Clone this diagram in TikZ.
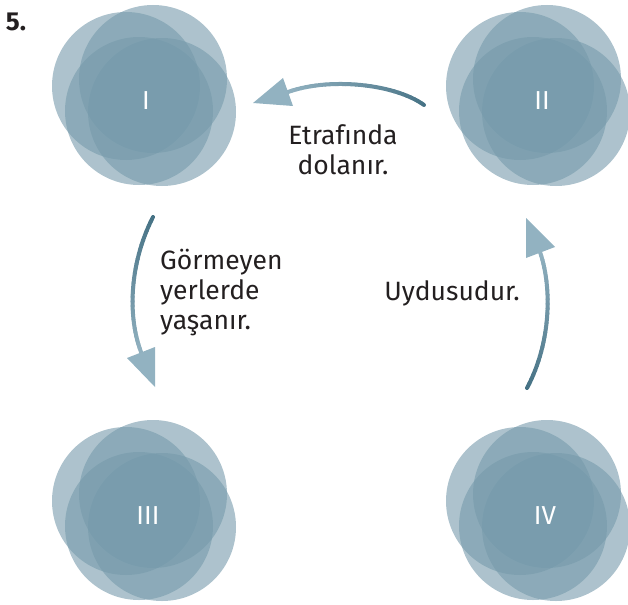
\documentclass[tikz,border=0pt]{standalone}
\usepackage{fontspec}
\setmainfont{Fira Sans}
\definecolor{discblue}{RGB}{118,154,171}
\definecolor{arrdark}{RGB}{70,114,133}
\definecolor{arrlight}{RGB}{146,178,193}
\definecolor{ink}{RGB}{35,31,32}

% shaft of a curved arrow, shaded from dark (start) to light (end)
\newcommand\gradshaft[4]{%
  \path (#1) .. controls (#2) and (#3) .. (#4)
    foreach \k in {0,...,30}{coordinate[pos=\k/30] (g\k)};
  \foreach \k [evaluate=\k as \kk using int(\k+1),
               evaluate=\k as \pc using int(100-\k*100/30)] in {0,...,29}
    \draw[shaft, arrdark!\pc!arrlight] (g\k) -- (g\kk);
}

\begin{document}
\begin{tikzpicture}[x=1pt,y=-1pt,
  discfill/.style={fill=discblue,fill opacity=0.6},
  roman/.style={text=white,inner sep=0pt,font=\fontsize{26}{30}\selectfont},
  caption/.style={text=ink,inner sep=0pt,font=\fontsize{26.5}{30}\selectfont},
  shaft/.style={line width=4pt,line cap=round},
  head/.style={fill=arrlight}]
\useasboundingbox (0,0) rectangle (628,604);

% four clusters of overlapping translucent discs, each with its numeral
\foreach \cx/\cy/\lx/\lab/\nm in {146/97/146/I/one, 540/97/542/II/two,
                                  146/512/148/III/three, 540/512/545/IV/four}{
  \foreach \dx/\dy in {-20/-11, 7/-18, -7/14, 16/15}
    \fill[discfill] (\cx+\dx,\cy+\dy) circle[radius=74pt];
  \node[roman] (\nm) at (\lx,\cy+4) {\lab};
}

% number
\node[text=ink,inner sep=0pt,font=\fontsize{26}{30}\selectfont\bfseries] (num) at (16,22) {5.};

% II -> I
\coordinate (s1) at (424,105);
\coordinate (e1) at (288,92);
\gradshaft{s1}{395,84}{330,77}{e1}
\coordinate (t1) at (253,103);
\fill[head] (t1) -- (283,78) -- (293,106) -- cycle;
\node[caption,align=center] (lab1) at (343,150) {Etrafında\\dolanır.};

% I -> III
\coordinate (s2) at (153,217);
\coordinate (e2) at (141,352);
\gradshaft{s2}{130,262}{127,315}{e2}
\coordinate (t2) at (155,387);
\fill[head] (t2) -- (127,358) -- (155,347) -- cycle;
\node[caption,align=left,anchor=west] (lab2) at (160,293) {Görmeyen\\yerlerde\\yaşanır.};

% IV -> II
\coordinate (s3) at (527,388);
\coordinate (e3) at (540,252);
\gradshaft{s3}{550,345}{553,290}{e3}
\coordinate (t3) at (526,218);
\fill[head] (t3) -- (555,247) -- (526,258) -- cycle;
\node[caption] (lab3) at (452,293) {Uydusudur.};
\end{tikzpicture}
\end{document}
